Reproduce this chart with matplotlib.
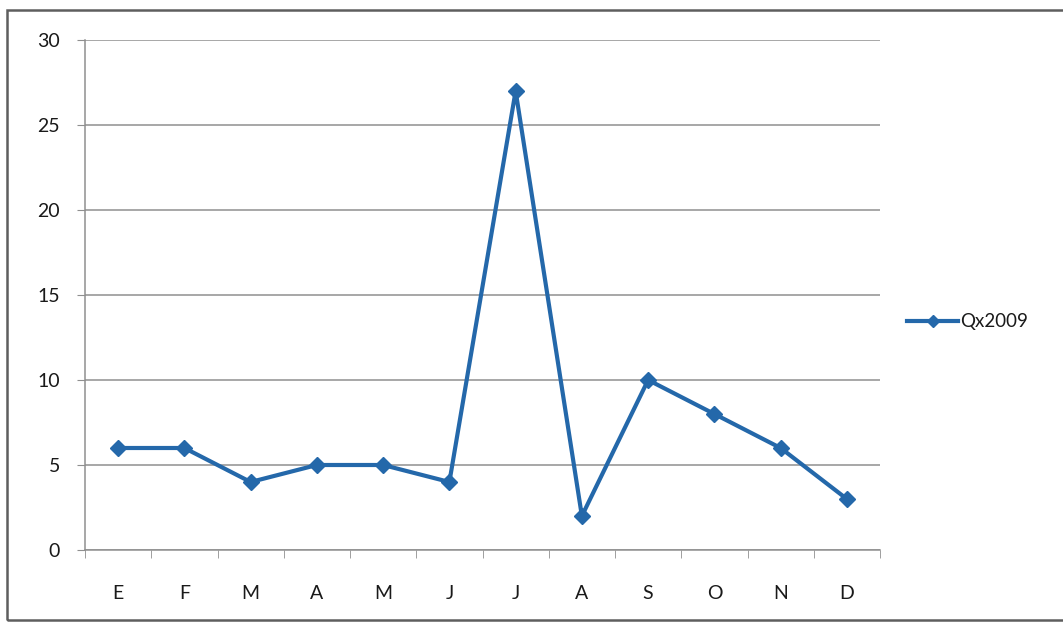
import matplotlib
matplotlib.use("Agg")
import matplotlib.pyplot as plt
from matplotlib.patches import Rectangle

months = ["E", "F", "M", "A", "M", "J", "J", "A", "S", "O", "N", "D"]
qx2009 = [6, 6, 4, 5, 5, 4, 27, 2, 10, 8, 6, 3]
yticks = [0, 5, 10, 15, 20, 25, 30]

plt.rcParams["font.family"] = ["Lato", "DejaVu Sans"]

blue = "#2468aa"
grid_col = "#8f8f8f"
text_col = "#1a1a1a"

fig = plt.figure(figsize=(10.63, 6.24), dpi=100)
fig.patch.set_facecolor("white")

# chart frame
fig.patches.append(Rectangle((7 / 1063, 4 / 624), 1.2, 610 / 624, transform=fig.transFigure,
                             fill=False, edgecolor="#5e5e5e", linewidth=1.8))

ax = fig.add_axes([85 / 1063, 1 - 550 / 624, 795 / 1063, 510 / 624])
x = list(range(len(months)))
ax.plot(x, qx2009, color=blue, linewidth=3.0, marker="D", markersize=8.5,
        markerfacecolor=blue, markeredgecolor=blue, label="Qx2009", zorder=3)

ax.set_xlim(-0.5, len(months) - 0.5)
ax.set_ylim(0, 30)
ax.set_yticks(yticks)
ax.set_xticks(x)
ax.set_xticklabels(months)
ax.set_xticks([i - 0.5 for i in range(len(months) + 1)], minor=True)

ax.yaxis.grid(True, color=grid_col, linewidth=1.1)
ax.set_axisbelow(True)
for side in ["top", "right"]:
    ax.spines[side].set_visible(False)
for side in ["left", "bottom"]:
    ax.spines[side].set_color(grid_col)
    ax.spines[side].set_linewidth(1.1)

ax.tick_params(axis="y", length=6, color=grid_col, labelsize=14, pad=12, labelcolor=text_col)
ax.tick_params(axis="x", which="major", length=0, labelsize=14, pad=25, labelcolor=text_col)
ax.tick_params(axis="x", which="minor", length=6, color=grid_col)

leg = ax.legend(loc="center left", bbox_to_anchor=(1.025, 1 - (322 - 40) / 510), frameon=False,
                fontsize=13.5, handlelength=2.7, handletextpad=0.1, markerscale=0.75,
                borderaxespad=0.0)
for t in leg.get_texts():
    t.set_color(text_col)

fig.savefig("out.png", dpi=100, facecolor="white")
